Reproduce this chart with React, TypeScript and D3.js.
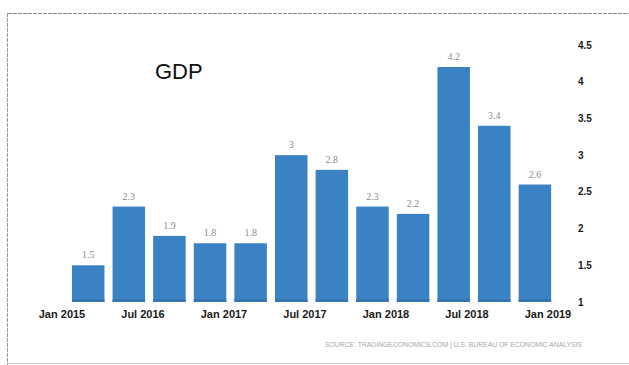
import React from "react";
import * as d3 from "d3";

const periods = ["P1", "P2", "P3", "P4", "P5", "P6", "P7", "P8", "P9", "P10", "P11", "P12"];
const gdpValues = [1.5, 2.3, 1.9, 1.8, 1.8, 3.0, 2.8, 2.3, 2.2, 4.2, 3.4, 2.6];
const valueLabels = ["1.5", "2.3", "1.9", "1.8", "1.8", "3", "2.8", "2.3", "2.2", "4.2", "3.4", "2.6"];
const xTickLabels = ["Jan 2015", "Jul 2016", "Jan 2017", "Jul 2017", "Jan 2018", "Jul 2018", "Jan 2019"];
const yTicks = [1, 1.5, 2, 2.5, 3, 3.5, 4, 4.5];
const title = "GDP";
const source = "SOURCE: TRADINGECONOMICS.COM | U.S. BUREAU OF ECONOMIC ANALYSIS";

const W = 629;
const H = 365;

export default function App() {
  const x = d3.scaleBand<string>().domain(periods).range([67.9, 555.2]).paddingInner(0.2).paddingOuter(0.1);
  const y = d3.scaleLinear().domain([1, 4.5]).range([302, 45]);
  const xl = d3.scalePoint<string>().domain(xTickLabels).range([62, 548]);
  const narrow = "'Liberation Sans Narrow', 'Liberation Sans', Arial, sans-serif";
  return (
    <svg width={W} height={H} style={{ position: "fixed", left: 0, top: 0, background: "#fff" }}>
      <rect x={0} y={0} width={W} height={H} fill="#fff" />
      <line x1={8} x2={W} y1={13.5} y2={13.5} stroke="#8a8a8a" strokeWidth={1} strokeDasharray="4,1" />
      <line x1={7.5} x2={7.5} y1={13} y2={H} stroke="#9a9a9a" strokeWidth={1} strokeDasharray="4,1" />
      <line x1={8} x2={W} y1={363.5} y2={363.5} stroke="#c8c8c8" strokeWidth={1} />
      <text x={155} y={79} fontFamily="'Liberation Sans', Arial, sans-serif" fontSize={22} fill="#111">
        {title}
      </text>
      {periods.map((p, i) => (
        <g key={p}>
          <rect
            x={x(p)}
            y={y(gdpValues[i])}
            width={x.bandwidth()}
            height={y(1) - y(gdpValues[i])}
            fill="#3b82c4"
          />
          <rect x={x(p)} y={y(1) - 3} width={x.bandwidth()} height={3} fill="#3576b3" />
          <text
            x={(x(p) as number) + x.bandwidth() / 2}
            y={y(gdpValues[i]) - 7}
            textAnchor="middle"
            fontFamily="'Liberation Serif', serif"
            fontSize={10}
            fill="#8c8c8c"
          >
            {valueLabels[i]}
          </text>
        </g>
      ))}
      {xTickLabels.map((t) => (
        <text
          key={t}
          x={xl(t)}
          y={318}
          textAnchor="middle"
          fontFamily={narrow}
          fontWeight="bold"
          fontSize={11}
          fill="#1a1a1a"
        >
          {t}
        </text>
      ))}
      {yTicks.map((v) => (
        <text
          key={v}
          x={578}
          y={y(v) + 3.5}
          fontFamily={narrow}
          fontWeight="bold"
          fontSize={10}
          fill="#1a1a1a"
        >
          {String(v)}
        </text>
      ))}
      <text
        x={325}
        y={346.5}
        fontFamily="'Liberation Sans', Arial, sans-serif"
        fontSize={6.5}
        fill="#a8a8a8"
        textLength={257}
        lengthAdjust="spacingAndGlyphs"
      >
        {source}
      </text>
    </svg>
  );
}
